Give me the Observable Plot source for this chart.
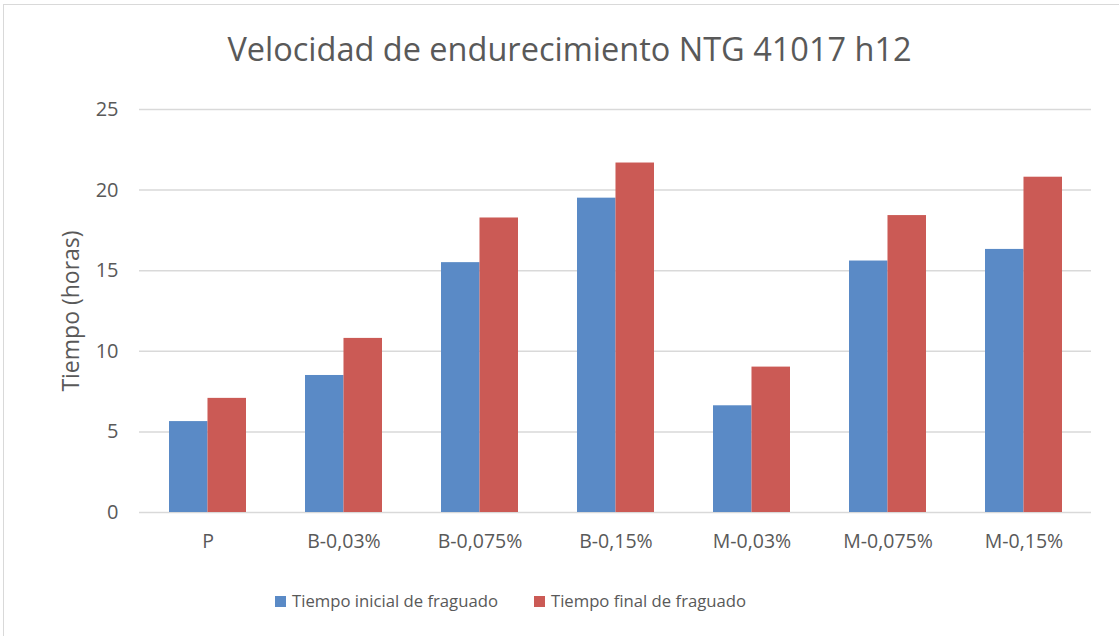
<!DOCTYPE html>
<html><head><meta charset="utf-8">
<script src="https://cdn.jsdelivr.net/npm/d3@7"></script>
<script src="https://cdn.jsdelivr.net/npm/@observablehq/plot@0.6"></script>
<style>
html,body{margin:0;padding:0;background:#fff;overflow:hidden;width:1119px;height:636px;position:relative;font-family:"Open Sans",sans-serif;color:#595959;}
#frame{position:absolute;left:3px;top:4px;width:1300px;height:800px;border:1.5px solid #d9d9d9;box-sizing:border-box;}
#title{position:absolute;left:10px;top:25px;width:1119px;text-align:center;font-size:32.5px;line-height:48px;white-space:nowrap;}
#chart{position:absolute;left:0;top:80px;}
#ylabel{position:absolute;left:70px;top:311px;transform:translate(-50%,-50%) rotate(-90deg);font-size:23px;white-space:nowrap;}
#legend{position:absolute;left:275px;top:588px;display:flex;align-items:center;font-size:16.7px;line-height:26px;white-space:nowrap;}
.sw{display:inline-block;width:11px;height:11px;margin-right:6px;}
.item{display:flex;align-items:center;margin-right:36px;}
</style>
</head><body>
<div id="frame"></div>
<div id="title">Velocidad de endurecimiento NTG 41017 h12</div>
<div id="chart"></div>
<div id="ylabel">Tiempo (horas)</div>
<div id="legend"></div>
<script>
const categories = ["P", "B-0,03%", "B-0,075%", "B-0,15%", "M-0,03%", "M-0,075%", "M-0,15%"];
const inicial = [5.64, 8.5, 15.5, 19.5, 6.62, 15.6, 16.32];
const final = [7.08, 10.8, 18.27, 21.68, 9.02, 18.42, 20.8];
const seriesNames = ["Tiempo inicial de fraguado", "Tiempo final de fraguado"];
const seriesColors = ["#5a8ac6", "#cb5a55"];
const yTicks = [0, 5, 10, 15, 20, 25];

const data = categories.map((c, i) => ({cat: c, inicial: inicial[i], final: final[i]}));
const W = 1119, mL = 139, mR = 28;
const pInner = 0.434, pOuter = 0.217;
const step = (W - mL - mR) / (categories.length - pInner + 2 * pOuter);
const half = step * (1 - pInner) / 2;

const plot = Plot.plot({
  width: W,
  height: 487,
  marginLeft: mL,
  marginRight: mR,
  marginTop: 29,
  marginBottom: 55,
  style: {fontFamily: "'Open Sans', sans-serif", fontSize: "19px", color: "#595959", background: "transparent"},
  x: {domain: categories, paddingInner: pInner, paddingOuter: pOuter, label: null},
  y: {domain: [0, 25], label: null},
  marks: [
    Plot.ruleY(yTicks, {stroke: "#d9d9d9", strokeWidth: 1.5}),
    Plot.barY(data, {x: "cat", y: "inicial", fill: seriesColors[0], insetRight: half}),
    Plot.barY(data, {x: "cat", y: "final", fill: seriesColors[1], insetLeft: half}),
    Plot.axisY({ticks: yTicks, tickSize: 0, tickPadding: 21, fontSize: 20, label: null, fill: "#595959"}),
    Plot.axisX({tickSize: 0, tickPadding: 22, fontSize: 19.5, label: null, fill: "#595959"})
  ]
});
document.getElementById("chart").appendChild(plot);

const leg = document.getElementById("legend");
seriesNames.forEach((n, i) => {
  const it = document.createElement("div");
  it.className = "item";
  const sw = document.createElement("span");
  sw.className = "sw";
  sw.style.background = seriesColors[i];
  it.appendChild(sw);
  it.appendChild(document.createTextNode(n));
  leg.appendChild(it);
});
</script>
</body></html>
